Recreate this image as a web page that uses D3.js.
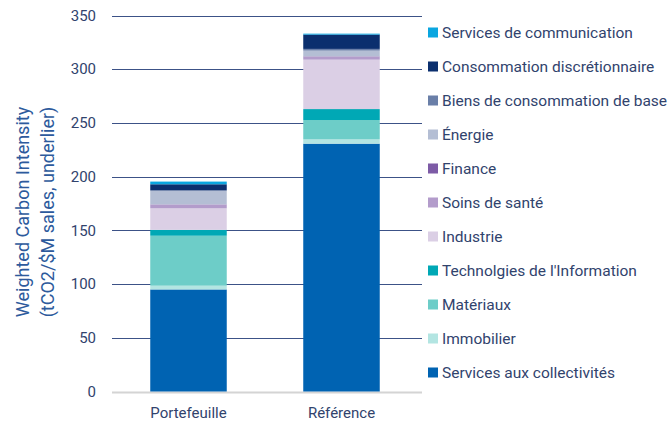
<!DOCTYPE html>
<html>
<head>
<meta charset="utf-8">
<script src="https://cdn.jsdelivr.net/npm/d3@7"></script>
<style>
  body { margin: 0; background: #fff; }
  text { font-family: Roboto, "Liberation Sans", sans-serif; fill: #31436d; }
</style>
</head>
<body>
<div class="chartContainer"></div>
<script>
// Data
const portfolios = ["Portefeuille", "Référence"];
const sectors = [
  "Services aux collectivités",
  "Immobilier",
  "Matériaux",
  "Technolgies de l'Information",
  "Industrie",
  "Soins de santé",
  "Finance",
  "Énergie",
  "Biens de consommation de base",
  "Consommation discrétionnaire",
  "Services de communication"
];
const portefeuilleValues = [95, 3.5, 46.5, 5.5, 20, 3.5, 0.2, 12.5, 0.7, 5.5, 2.5];
const referenceValues = [230.7, 4, 18, 10.2, 46, 2.8, 0.3, 5.3, 1.6, 13.3, 0.9];
const yTicks = [0, 50, 100, 150, 200, 250, 300, 350];
const sectorColors = [
  "#0063b2", "#b3e5e2", "#6dcdc8", "#00a8b5", "#dbcfe5", "#b39ccb",
  "#7d5ba6", "#b4bed4", "#6a7fa8", "#0b2f6e", "#0aa6e0"
];

function stackedChart() {
  const width = 670, height = 421;
  const margin = { top: 15.5, right: 252, bottom: 29.5, left: 112 };

  const svg = d3.select(".chartContainer")
    .append("svg")
    .attr("width", width)
    .attr("height", height);

  // build rows for the stack
  const rows = portfolios.map(function (p, i) {
    const row = { name: p };
    const vals = i === 0 ? portefeuilleValues : referenceValues;
    sectors.forEach(function (s, j) { row[s] = vals[j]; });
    return row;
  });
  const series = d3.stack().keys(sectors)(rows);

  const x = d3.scaleBand()
    .domain(portfolios)
    .range([margin.left, width - margin.right])
    .paddingInner(0.5)
    .paddingOuter(0.25);

  const y = d3.scaleLinear()
    .domain([0, 350])
    .range([height - margin.bottom, margin.top]);

  const color = d3.scaleOrdinal().domain(sectors).range(sectorColors);

  // Gridlines
  svg.append("g")
    .selectAll("line")
    .data(yTicks)
    .enter()
    .append("line")
    .attr("x1", margin.left)
    .attr("x2", width - margin.right + 4)
    .attr("y1", function (d) { return Math.round(y(d)) + 0.5; })
    .attr("y2", function (d) { return Math.round(y(d)) + 0.5; })
    .attr("stroke", function (d) { return d === 0 ? "#d4d4d4" : "#3c5287"; })
    .attr("stroke-width", d => d === 0 ? 2 : 1);

  // Y tick labels
  svg.append("g")
    .selectAll("text")
    .data(yTicks)
    .enter()
    .append("text")
    .attr("x", 96)
    .attr("y", function (d) { return y(d); })
    .attr("dy", "0.35em")
    .attr("text-anchor", "end")
    .style("font-size", "15px")
    .text(function (d) { return d; });

  // Y axis title
  const title = svg.append("text")
    .attr("transform", "translate(23," + 212 + ") rotate(-90)")
    .attr("text-anchor", "middle")
    .style("font-size", "18px")
    .style("fill", "#2d5a9c");
  title.append("tspan").attr("x", 0).attr("dy", "0.35em").text("Weighted Carbon Intensity");
  title.append("tspan").attr("x", 0).attr("dy", 25).text("(tCO2/$M sales, underlier)");

  // Bars
  svg.append("g")
    .selectAll("g")
    .data(series)
    .enter()
    .append("g")
    .attr("fill", function (d) { return color(d.key); })
    .selectAll("rect")
    .data(function (d) { return d; })
    .enter()
    .append("rect")
    .attr("x", function (d) { return x(d.data.name); })
    .attr("width", x.bandwidth())
    .attr("y", function (d) { return y(d[1]); })
    .attr("height", function (d) { return y(d[0]) - y(d[1]); });

  // X labels
  svg.append("g")
    .selectAll("text")
    .data(portfolios)
    .enter()
    .append("text")
    .attr("x", function (d) { return x(d) + x.bandwidth() / 2; })
    .attr("y", 418)
    .attr("text-anchor", "middle")
    .style("font-size", "15px")
    .text(function (d) { return d; });

  // Legend, top item is the last sector
  const legendOrder = sectors.slice().reverse();
  const legend = svg.append("g")
    .selectAll("g")
    .data(legendOrder)
    .enter()
    .append("g")
    .attr("transform", function (d, i) { return "translate(428," + (32.5 + i * 34) + ")"; });
  legend.append("rect")
    .attr("x", 0)
    .attr("y", -5)
    .attr("width", 10)
    .attr("height", 10)
    .attr("fill", function (d) { return color(d); });
  legend.append("text")
    .attr("x", 14)
    .attr("dy", "0.35em")
    .style("font-size", "15.5px")
    .text(function (d) { return d; });
}

stackedChart();
</script>
</body>
</html>
